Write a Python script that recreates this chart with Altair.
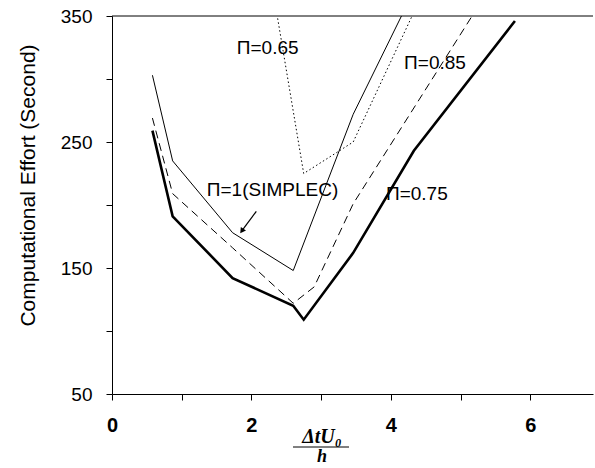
import altair as alt
import pandas as pd

# Series (x = Δt·U0/h, y = computational effort in seconds)
x_simplec = [0.58, 0.87, 1.73, 2.6, 3.46, 4.33]
y_simplec = [303, 235, 178, 148, 272, 370]
x_065 = [1.73, 2.75, 3.46, 4.33]
y_065 = [561, 225, 250, 353]
x_075 = [0.58, 0.87, 1.73, 2.6, 2.75, 3.46, 4.33, 5.78]
y_075 = [259, 191, 142, 120, 109, 162, 243, 346]
x_085 = [0.58, 0.87, 1.73, 2.6, 2.9, 3.46, 4.33, 5.2]
y_085 = [269, 209, 166, 122, 135, 201, 277, 353]

# Curve labels
label_text = ["Π=0.65", "Π=0.85", "Π=1(SIMPLEC)", "Π=0.75"]
label_x = [1.79, 4.19, 1.36, 3.93]
label_y = [325, 313, 212, 209]

# Arrow pointing to the SIMPLEC curve
arrow_x = [2.07, 1.87]
arrow_y = [195, 180]

x_ticks = [0, 1, 2, 3, 4, 5, 6]
y_ticks = [50, 100, 150, 200, 250, 300, 350]

W, H = 481, 378

def series(xs, ys, name):
    return pd.DataFrame({"x": xs, "y": ys, "s": name})

xs = alt.Scale(domain=[0, 6.9], nice=False, zero=False)
ys = alt.Scale(domain=[50, 350], nice=False, zero=False)

x_axis = alt.Axis(values=x_ticks, labelExpr="datum.value % 2 == 0 ? datum.label : ''",
                  title=None, grid=False, tickSize=6, labelPadding=15,
                  labelFontSize=20, labelFontWeight="bold", labelFont="Liberation Sans",
                  domainColor="black", tickColor="black", labelColor="black",
                  labelFlush=False)
y_axis = alt.Axis(values=y_ticks, labelExpr="(datum.value - 50) % 100 == 0 ? datum.label : ''",
                  title="Computational Effort (Second)", grid=False, tickSize=6,
                  labelPadding=14, labelFontSize=19, labelFont="Liberation Sans",
                  titleFont="Liberation Sans", titleFontSize=21, titleFontWeight="normal",
                  titleX=-84, titleY=169, titleBaseline="middle", titleAngle=270,
                  domainColor="black", tickColor="black", labelColor="black",
                  titleColor="black", labelFlush=False)

X = alt.X("x:Q", scale=xs, axis=x_axis)
Y = alt.Y("y:Q", scale=ys, axis=y_axis)

def line(df, width, dash=None):
    kw = dict(color="black", strokeWidth=width, clip=True)
    if dash:
        kw["strokeDash"] = dash
    return alt.Chart(df).mark_line(**kw).encode(x=X, y=Y)

l075 = line(series(x_075, y_075, "0.75"), 2.6)
l1 = line(series(x_simplec, y_simplec, "1"), 1.0)
l085 = line(series(x_085, y_085, "0.85"), 1.0, dash=[8, 5])
l065 = line(series(x_065, y_065, "0.65"), 1.0, dash=[1.5, 2.5])

top = alt.Chart(pd.DataFrame({"a": [0]})).mark_rule(color="black", strokeWidth=1).encode(
    y=alt.value(0))

labels = alt.Chart(pd.DataFrame({"t": label_text, "x": label_x, "y": label_y})).mark_text(
    align="left", baseline="middle", font="Liberation Sans", fontSize=19, color="black"
).encode(x=X, y=Y, text="t:N")

arrow_df = pd.DataFrame({"x": arrow_x, "y": arrow_y, "o": [0, 1]})
arrow_line = alt.Chart(arrow_df).mark_line(color="black", strokeWidth=1.2).encode(
    x=X, y=Y, order="o:Q")
arrow_head = alt.Chart(arrow_df.iloc[[1]]).mark_point(
    shape="triangle", filled=True, color="black", size=40, angle=215, opacity=1
).encode(x=X, y=Y)

# x-axis title as a fraction  ΔtU0 / h
num = alt.Chart(pd.DataFrame({"t": ["ΔtU₀"]})).mark_text(
    font="Liberation Serif", fontSize=20, fontWeight="bold", fontStyle="italic",
    color="black", align="center", baseline="middle"
).encode(x=alt.value(210), y=alt.value(421), text="t:N")
bar = alt.Chart(pd.DataFrame({"a": [0]})).mark_rule(color="black", strokeWidth=1).encode(
    x=alt.value(181), x2=alt.value(237), y=alt.value(431))
den = alt.Chart(pd.DataFrame({"t": ["h"]})).mark_text(
    font="Liberation Serif", fontSize=18, fontWeight="bold", fontStyle="italic",
    color="black", align="center", baseline="middle"
).encode(x=alt.value(210), y=alt.value(441), text="t:N")

chart = alt.layer(l075, l1, l085, l065, top, labels, arrow_line, arrow_head, num, bar, den).properties(
    width=W, height=H,
    autosize=alt.AutoSizeParams(type="none"),
    padding={"left": 112, "top": 16, "right": 2, "bottom": 74},
    background="white",
).configure_view(stroke=None)

chart.save("out.html", embed_options={"renderer": "svg", "actions": False})
